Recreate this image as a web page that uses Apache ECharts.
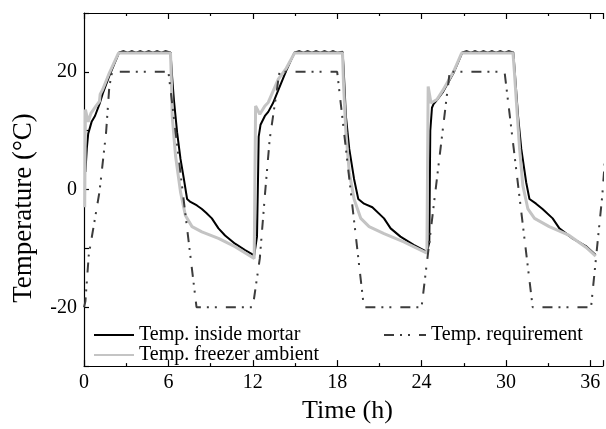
<!DOCTYPE html>
<html>
<head>
<meta charset="utf-8">
<script src="https://cdn.jsdelivr.net/npm/echarts@6/dist/echarts.min.js"></script>
<style>
html,body{margin:0;padding:0;background:#fff;}
#chart{width:606px;height:429px;}
</style>
</head>
<body>
<div id="chart"></div>
<script>
// Time (h), value (°C)
var mortarData = [
  [0.1,3],[0.2,7],[0.3,9.5],[0.54,11.5],[0.78,12.5],[1.1,14.5],[1.33,16.3],[1.8,19.3],[2.5,23.3],
  [2.8,23.5],[3.1,23.25],[3.4,23.5],[3.7,23.25],[4.0,23.5],[4.3,23.25],[4.6,23.5],[4.9,23.25],[5.2,23.5],[5.5,23.25],[5.8,23.5],[6.15,23.3],
  [6.27,19],[6.39,15.3],[6.62,9.7],[6.86,5.2],[7.1,1.8],[7.33,-1.6],[7.57,-2.1],[8.03,-2.7],[8.38,-3.3],[8.7,-4],[9.09,-4.9],[9.56,-6.6],[10.03,-7.8],[10.74,-9.2],[11.45,-10.3],[12.1,-11.2],
  [12.3,-8],[12.38,3],[12.42,9],[12.55,11],[12.86,12.5],[13.1,13.2],[13.44,14.7],[13.8,16.8],[14.38,20.2],[14.97,23.3],
  [15.3,23.5],[15.6,23.25],[15.9,23.5],[16.2,23.25],[16.5,23.5],[16.8,23.25],[17.1,23.5],[17.4,23.25],[17.7,23.5],[18.0,23.25],[18.38,23.4],
  [18.45,21],[18.62,12.5],[18.86,6.9],[19.2,1.8],[19.5,-1.6],[19.91,-2.4],[20.5,-3],[21.33,-4.9],[21.8,-6.6],[22.5,-8],[23.44,-9.4],[24.38,-10.6],
  [24.55,-9],[24.62,10],[24.74,13.9],[24.85,14.5],[25.09,15.2],[25.5,16.5],[26.27,19.8],[26.9,23.3],
  [27.2,23.5],[27.5,23.25],[27.8,23.5],[28.1,23.25],[28.4,23.5],[28.7,23.25],[29.0,23.5],[29.3,23.25],[29.6,23.5],[29.9,23.25],[30.2,23.5],[30.52,23.3],
  [30.6,20.9],[30.86,12.5],[31.09,6.9],[31.44,1.2],[31.67,-1.6],[32.14,-2.4],[32.6,-3.3],[33.32,-4.9],[33.8,-6.6],[34.73,-8.3],[35.68,-9.6],[36.38,-11.1]
];
var freezerData = [
  [0.05,-3],[0.1,13.6],[0.3,11.5],[0.5,13],[0.86,14.2],[1.1,15],[1.15,16.2],[1.33,17],[1.8,19.8],[2.45,23.2],
  [6.15,23.2],[6.22,18],[6.27,12.5],[6.51,5.7],[6.86,-0.4],[7.21,-4.4],[7.68,-6.3],[8.38,-7.2],[9.56,-8.3],[10.74,-9.7],[12.1,-11.7],
  [12.15,-11.7],[12.2,14.2],[12.5,12.8],[12.86,14.2],[13.1,14.8],[13.8,18.7],[14.38,20.6],[14.97,23.2],
  [18.38,23.2],[18.45,18],[18.62,9.7],[18.86,2.9],[19.2,-1.6],[19.68,-4.9],[20.27,-6.3],[21.33,-7.5],[22.74,-8.9],[24.38,-10.8],
  [24.42,-10.8],[24.47,17.5],[24.67,14.7],[25.09,15.3],[25.5,16.8],[26.27,20],[26.85,23.2],
  [30.5,23.2],[30.6,20],[30.73,15.3],[30.97,6.9],[31.2,0.7],[31.56,-3.3],[32.03,-4.9],[33.08,-6.3],[34.5,-7.8],[35.68,-9.8],[36.38,-11.3]
];
var requirementData = [
  [0,-20],[0.1,-19],[0.34,-11.1],[0.86,-3.8],[1.1,-0.4],[1.57,9.7],[1.8,17.5],[2.0,20],
  [6.0,20],[8.0,-20],[12.0,-20],[12.5,-11.7],[12.86,-1],[13.2,8.5],[13.9,20],
  [18.0,20],[19.9,-20],[24.0,-20],[26.0,20],[29.9,20],[31.9,-20],[36.05,-20],[36.85,-1],[37.5,20]
];
var xTicks = [0, 6, 12, 18, 24, 30, 36];
var yTicks = [-20, 0, 20];

var FONT = 'Liberation Serif';
var chart = echarts.init(document.getElementById('chart'), null, {renderer: 'canvas'});

function xAxisBase(pos) {
  return {
    type: 'value', position: pos, min: 0, max: 36.9, interval: 6,
    axisLine: {show: true, onZero: false, lineStyle: {color: '#000', width: 1.2}},
    axisTick: {show: true, inside: true, length: 6, lineStyle: {color: '#000', width: 1.2}},
    minorTick: {show: true, splitNumber: 2, length: 3, lineStyle: {color: '#000', width: 1.2}},
    splitLine: {show: false},
    axisLabel: {
      show: pos === 'bottom', margin: 7, fontFamily: FONT, fontSize: 20, color: '#000',
      formatter: function (v) { return xTicks.indexOf(v) >= 0 ? String(v) : ''; }
    }
  };
}

var xb = xAxisBase('bottom');
xb.name = 'Time (h)';
xb.nameLocation = 'middle';
xb.nameGap = 30;
xb.nameTextStyle = {fontFamily: FONT, fontSize: 26, color: '#000', padding: [0, 0, 0, 8]};
var xt = xAxisBase('top');

var legendText = {fontFamily: FONT, fontSize: 20, color: '#000', lineHeight: 20};

var option = {
  animation: false,
  backgroundColor: '#fff',
  grid: {left: 84, right: 0, top: 13, bottom: 60, containLabel: false},
  xAxis: [xb, xt],
  yAxis: {
    type: 'value', min: -30, max: 30, interval: 10,
    axisLine: {show: true, onZero: false, lineStyle: {color: '#000', width: 1.2}},
    axisTick: {show: true, inside: true, length: 5, lineStyle: {color: '#000', width: 1.2}},
    splitLine: {show: false},
    axisLabel: {
      margin: 7, fontFamily: FONT, fontSize: 20, color: '#000',
      formatter: function (v) { return yTicks.indexOf(v) >= 0 ? String(v) : ''; }
    }
  },
  legend: [
    {
      data: ['Temp. inside mortar', 'Temp. freezer ambient'],
      orient: 'vertical', left: 88, top: 320, itemWidth: 40, itemHeight: 12, itemGap: 0,
      itemStyle: {opacity: 0},
      textStyle: legendText, selectedMode: false
    },
    {
      data: ['Temp. requirement'],
      orient: 'horizontal', left: 378, top: 320, itemWidth: 42, itemHeight: 12,
      itemStyle: {opacity: 0},
      textStyle: legendText, selectedMode: false
    }
  ],
  graphic: [{
    type: 'text', x: 24, y: 208, rotation: Math.PI / 2,
    style: {text: 'Temperature (\u00B0C)', fontFamily: FONT, fontSize: 27, fill: '#000', align: 'center', verticalAlign: 'middle'}
  }],
  series: [
    {
      name: 'Temp. inside mortar', type: 'line', data: mortarData, symbol: 'none', z: 2,
      color: '#000', lineStyle: {color: '#000', width: 2}
    },
    {
      name: 'Temp. freezer ambient', type: 'line', data: freezerData, symbol: 'none', z: 3,
      color: '#c4c4c4', lineStyle: {color: '#c4c4c4', width: 3}
    },
    {
      name: 'Temp. requirement', type: 'line', data: requirementData, symbol: 'none', z: 4,
      color: '#3c3c3c', lineStyle: {color: '#3c3c3c', width: 2, type: [10, 6, 2, 6, 2, 9]}
    }
  ]
};
chart.setOption(option);
</script>
</body>
</html>
